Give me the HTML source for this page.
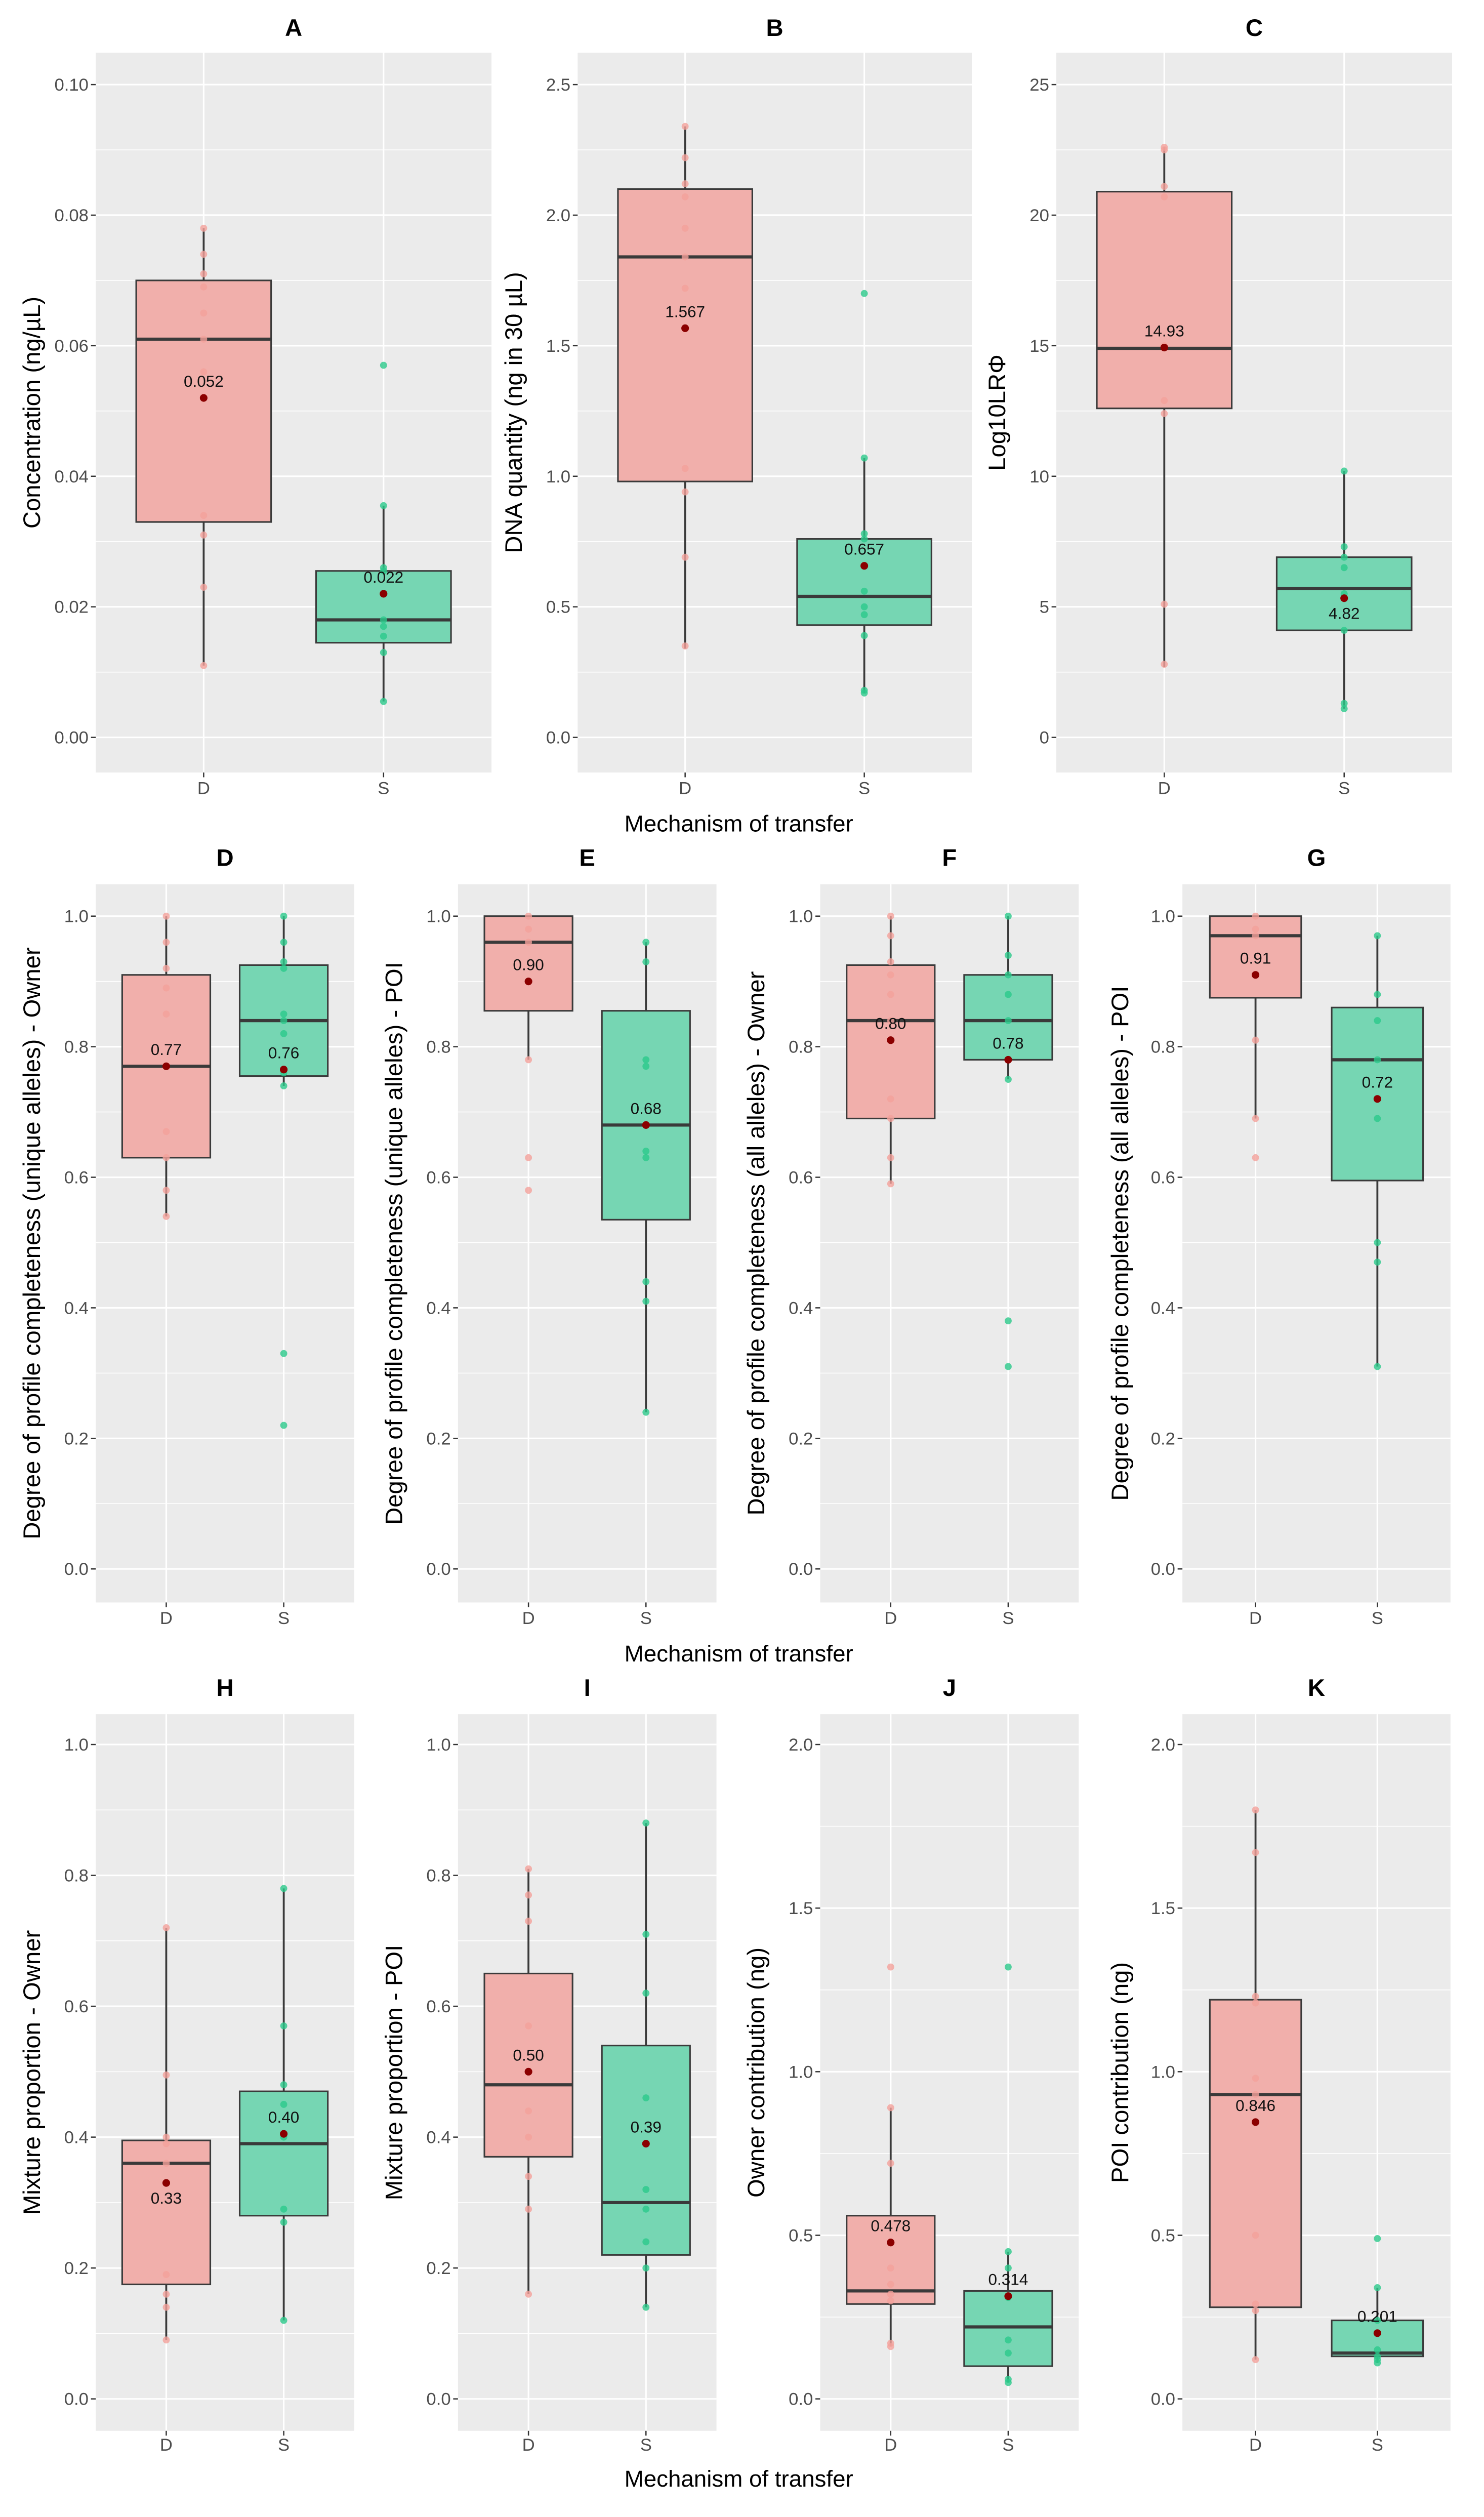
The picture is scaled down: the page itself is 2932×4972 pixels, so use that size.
<!DOCTYPE html>
<html><head><meta charset="utf-8"><style>
html,body{margin:0;padding:0;background:#fff}
svg{display:block}
text{font-family:"Liberation Sans",sans-serif}
</style></head><body>
<svg id="chart" xmlns="http://www.w3.org/2000/svg" width="2932" height="4972" viewBox="0 0 930 1577" preserveAspectRatio="none"></svg>
<script>
// ---- data ----
const categories = ['D','S'];
const panelIds = ['A','B','C','D','E','F','G','H','I','J','K'];
const yTitles = ['Concentration (ng/µL)','DNA quantity (ng in 30 µL)','Log10LRΦ',
 'Degree of profile completeness (unique alleles) - Owner','Degree of profile completeness (unique alleles) - POI',
 'Degree of profile completeness (all alleles) - Owner','Degree of profile completeness (all alleles) - POI',
 'Mixture proportion - Owner','Mixture proportion - POI','Owner contribution (ng)','POI contribution (ng)'];
const tickMax = [0.10,2.5,25,1,1,1,1,1,1,2,2];
const tickStep = [0.02,0.5,5,0.2,0.2,0.2,0.2,0.2,0.2,0.5,0.5];
const tickDecimals = [2,1,0,1,1,1,1,1,1,1,1];
// box stats [q1, median, q3, whiskerLow, whiskerHigh]
const boxD = [[.033,.061,.070,.011,.078],[.98,1.84,2.10,.34,2.34],[12.6,14.9,20.9,2.7,22.6],
 [.63,.77,.91,.54,1.0],[.855,.96,1.0,.78,1.0],[.69,.84,.925,.59,1.0],[.875,.97,1.0,.69,1.0],
 [.175,.36,.395,.09,.72],[.37,.48,.65,.16,.81],[.29,.33,.56,.16,.89],[.28,.93,1.22,.12,1.80]];
const boxS = [[.0145,.018,.0255,.0055,.0355],[.43,.54,.76,.17,1.07],[4.1,5.7,6.9,1.1,10.2],
 [.755,.84,.925,.74,1.0],[.535,.68,.855,.24,.96],[.78,.84,.91,.75,1.0],[.595,.78,.86,.31,.97],
 [.28,.39,.47,.12,.78],[.22,.30,.54,.14,.88],[.10,.22,.33,.05,.45],[.13,.14,.24,.11,.34]];
const meanD = [.052,1.567,14.93,.77,.90,.81,.91,.33,.50,.478,.846];
const meanS = [.022,.657,5.33,.765,.68,.78,.72,.405,.39,.314,.201];
const meanLabelD = ['0.052','1.567','14.93','0.77','0.90','0.80','0.91','0.33','0.50','0.478','0.846'];
const meanLabelS = ['0.022','0.657','4.82','0.76','0.68','0.78','0.72','0.40','0.39','0.314','0.201'];
const labelBelowD = [0,0,0,0,0,0,0,1,0,0,0];
const labelBelowS = [0,0,1,0,0,0,0,0,0,0,0];
const pointsD = [[.078,.074,.071,.069,.065,.061,.056,.034,.031,.023,.011],
 [2.34,2.22,2.12,2.07,1.95,1.84,1.72,1.03,.94,.69,.35],
 [22.6,22.5,21.1,20.7,15,12.9,12.4,5.1,2.8],
 [1.0,.96,.92,.89,.85,.77,.67,.63,.58,.54],
 [1.0,.98,.96,.90,.78,.63,.58],
 [1.0,.97,.93,.91,.88,.84,.72,.69,.63,.59],
 [1.0,.98,.97,.91,.81,.69,.63],
 [.72,.495,.40,.39,.36,.33,.19,.16,.14,.09],
 [.81,.77,.73,.57,.50,.44,.40,.34,.29,.16],
 [1.32,.89,.72,.48,.40,.35,.32,.30,.17,.16],
 [1.80,1.67,1.23,1.21,.98,.93,.50,.29,.27,.12]];
const pointsS = [[.057,.0355,.026,.0255,.018,.017,.0155,.013,.0055],
 [1.70,1.07,.78,.76,.56,.50,.47,.39,.18,.17],
 [10.2,7.3,6.9,6.5,5.5,4.1,1.3,1.1],
 [1.0,.96,.93,.92,.85,.84,.82,.76,.74,.33,.22],
 [.96,.93,.78,.77,.68,.64,.63,.44,.41,.24],
 [1.0,.94,.91,.88,.84,.78,.75,.38,.31],
 [.97,.88,.84,.78,.69,.50,.47,.31],
 [.78,.57,.48,.45,.40,.29,.27,.12],
 [.88,.71,.62,.46,.39,.32,.29,.24,.20,.14],
 [1.32,.45,.40,.31,.18,.14,.06,.05],
 [.49,.34,.24,.20,.15,.13,.12,.11]];

// ---- layout ----
const rows=[{y0:33,y1:484,zero:462,top:53,title:17,cat:493,mech:516},
            {y0:554,y1:1004,zero:983,top:574,title:537,cat:1013,mech:1036},
            {y0:1074,y1:1523,zero:1503,top:1093,title:1057,cat:1531,mech:1553}];
const pLayout=[[0,60,308,20],[0,362,609,322],[0,662,910,625],
 [1,60,222,20],[1,287,449,247],[1,514,676,474],[1,741,909,702],
 [2,60,222,20],[2,287,449,247],[2,514,676,474],[2,741,909,702]];
const NS='http://www.w3.org/2000/svg';
const svg=document.getElementById('chart');
function mk(tag,attrs,parent,txt){const e=document.createElementNS(NS,tag);for(const k in attrs)e.setAttribute(k,attrs[k]);if(txt!==undefined)e.textContent=txt;(parent||svg).appendChild(e);return e;}

panelIds.forEach((id,i)=>{
  const [r,x0,x1,tx]=pLayout[i]; const R=rows[r];
  const g=mk('g',{});
  
  
  const yS=v=>R.zero-(v/tickMax[i])*(R.zero-R.top);
  const xS=c=>x0+(x1-x0)*(c===0?0.6/2.2:1.6/2.2);
  const hw=(x1-x0)*0.75/2.2/2;
  const bg=mk('rect',{x:x0,y:R.y0,width:x1-x0,height:R.y1-R.y0,fill:'#EBEBEB'},g);
  
  const n=Math.round(tickMax[i]/tickStep[i]);
  for(let k=-1;k<=n;k++){const v=(k+0.5)*tickStep[i];const y=yS(v);if(y>R.y0&&y<R.y1)mk('line',{x1:x0,x2:x1,y1:y,y2:y,stroke:'#fff','stroke-width':0.5},g);}
  for(let k=0;k<=n;k++){const v=k*tickStep[i];const y=yS(v);
    mk('line',{x1:x0,x2:x1,y1:y,y2:y,stroke:'#fff','stroke-width':1},g);
    mk('line',{x1:x0-3,x2:x0,y1:y,y2:y,stroke:'#333','stroke-width':0.8},g);
    const t=mk('text',{x:x0-4.5,y:y+3.8,'font-size':11,fill:'#4D4D4D','text-anchor':'end'},g,v.toFixed(tickDecimals[i]));
    }
  categories.forEach((c,ci)=>{const x=xS(ci);
    mk('line',{x1:x,x2:x,y1:R.y0,y2:R.y1,stroke:'#fff','stroke-width':1},g);
    mk('line',{x1:x,x2:x,y1:R.y1,y2:R.y1+3,stroke:'#333','stroke-width':0.8},g);
    const t=mk('text',{x:x,y:R.cat+4.5,'font-size':11,fill:'#4D4D4D','text-anchor':'middle'},g,c);
    });
  const groups=[[boxD[i],pointsD[i],meanD[i],meanLabelD[i],labelBelowD[i],'#F1AFAB','#F4A19B'],
                [boxS[i],pointsS[i],meanS[i],meanLabelS[i],labelBelowS[i],'#76D6B3','#2CC98B']];
  groups.forEach((gr,ci)=>{const [b,pts,m,ml,below,fill,pc]=gr;const x=xS(ci);
    mk('line',{x1:x,x2:x,y1:yS(b[4]),y2:yS(b[2]),stroke:'#3a3a3a','stroke-width':1.2},g);
    mk('line',{x1:x,x2:x,y1:yS(b[0]),y2:yS(b[3]),stroke:'#3a3a3a','stroke-width':1.2},g);
    const bx=mk('rect',{x:x-hw,y:yS(b[2]),width:2*hw,height:yS(b[0])-yS(b[2]),fill:fill,stroke:'#3a3a3a','stroke-width':1},g);
    
    mk('line',{x1:x-hw,x2:x+hw,y1:yS(b[1]),y2:yS(b[1]),stroke:'#3a3a3a','stroke-width':2},g);
    pts.forEach(p=>{const d=mk('circle',{cx:x,cy:yS(p),r:2.2,fill:pc,'fill-opacity':0.8},g);
      });
    const md=mk('circle',{cx:x,cy:yS(m),r:2.4,fill:'#8B0000'},g);
    
    const ly=below?yS(m)+13:yS(m)-7;
    const lt=mk('text',{x:x,y:ly,'font-size':10,fill:'#111','text-anchor':'middle'},g,ml);
    });
  const tt=mk('text',{x:(x0+x1)/2,y:R.title+5.5,'font-size':15,'font-weight':'bold','text-anchor':'middle',fill:'#000'},g,id);
  
  const yc=(R.y0+R.y1)/2;
  const yt=mk('text',{x:tx,y:yc,'font-size':15,'text-anchor':'middle',fill:'#000',transform:`rotate(-90 ${tx} ${yc}) translate(0 5)`},g,yTitles[i]);
  
});
rows.forEach(R=>{const t=mk('text',{x:463,y:R.mech+5,'font-size':14.5,'text-anchor':'middle',fill:'#000'},svg,'Mechanism of transfer');
  });
</script>
</body></html>
